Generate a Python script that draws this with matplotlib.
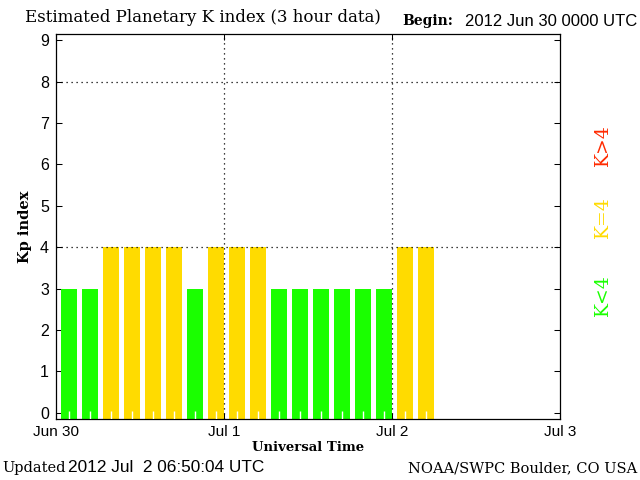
import matplotlib
matplotlib.use("Agg")
import matplotlib.pyplot as plt
import numpy as np

# 3-hour Kp values starting 2012 Jun 30 0000 UTC
kp = [3, 3, 4, 4, 4, 4, 3, 4, 4, 4, 3, 3, 3, 3, 3, 3, 4, 4]
day_labels = ["Jun 30", "Jul 1", "Jul 2", "Jul 3"]
ytick_vals = list(range(10))

GREEN = "#1aff00"
YELLOW = "#ffdb00"
RED = "#ff2a00"
SERIF = "DejaVu Serif"
SANS = "Liberation Sans"
YMIN, YMAX = -0.15, 9.15


def bar_color(k):
    if k < 4:
        return GREEN
    if k == 4:
        return YELLOW
    return RED


fig = plt.figure(figsize=(6.4, 4.8), dpi=100)
ax = fig.add_axes([56 / 640, 1 - 419 / 480, 504 / 640, 385 / 480])

starts = np.arange(len(kp)) * 3
heights = [k - YMIN for k in kp]
ax.bar(starts + 0.7, heights, bottom=YMIN, width=2.3, align="edge",
       color=[bar_color(k) for k in kp], linewidth=0, zorder=2)

# small white marks at the foot of each bar
ax.vlines(starts + 1.85, YMIN, YMIN + 0.19, colors="white", linewidth=1, zorder=3)

ax.set_xlim(0, 72)
ax.set_ylim(YMIN, YMAX)

ax.set_xticks([0, 24, 48, 72])
ax.set_xticklabels(day_labels, family=SANS, fontsize=11)
ax.set_yticks(ytick_vals)
ax.set_yticklabels([str(v) for v in ytick_vals], family=SANS, fontsize=11.5)

ax.tick_params(axis="both", which="major", direction="in", length=4.5,
               width=0.75, color="black", top=True, right=True)
ax.tick_params(axis="x", pad=4)
ax.tick_params(axis="y", pad=5)

for d in [24, 48]:
    ax.axvline(d, color="black", linestyle=(0, (1, 3)), linewidth=0.9, zorder=3)
for k in [4, 8]:
    ax.axhline(k, color="black", linestyle=(0, (1, 3)), linewidth=0.9, zorder=3)

for s in ax.spines.values():
    s.set_linewidth(0.9)

ax.set_ylabel("Kp index", family=SERIF, fontweight="bold", fontsize=10.5, labelpad=6)
ax.set_xlabel("Universal Time", family=SERIF, fontweight="bold", fontsize=9.5,
              labelpad=2)

fig.text(25 / 640, 1 - 18 / 480, "Estimated Planetary K index (3 hour data)",
         family=SERIF, fontsize=12, va="center", ha="left")
fig.text(402 / 640, 1 - 21 / 480, "Begin:", family=SERIF, fontweight="bold",
         fontsize=10, va="center", ha="left")
fig.text(637 / 640, 1 - 21 / 480, "2012 Jun 30 0000 UTC", family=SANS,
         fontsize=12, va="center", ha="right")

fig.text(2 / 640, 1 - 468 / 480, "Updated", family=SERIF, fontsize=10.5,
         va="center", ha="left")
fig.text(68 / 640, 1 - 468 / 480, "2012 Jul  2 06:50:04 UTC", family=SANS,
         fontsize=12.4, va="center", ha="left")
fig.text(637 / 640, 1 - 468 / 480, "NOAA/SWPC Boulder, CO USA", family=SERIF,
         fontsize=10.5, va="center", ha="right")

for label, col, yp in [("K<4", GREEN, 295), ("K=4", YELLOW, 217), ("K>4", RED, 145)]:
    fig.text(603 / 640, 1 - yp / 480, label, color=col, family=SERIF,
             fontsize=13.5, rotation=90, va="center", ha="center")

fig.savefig("out.png", dpi=100)
